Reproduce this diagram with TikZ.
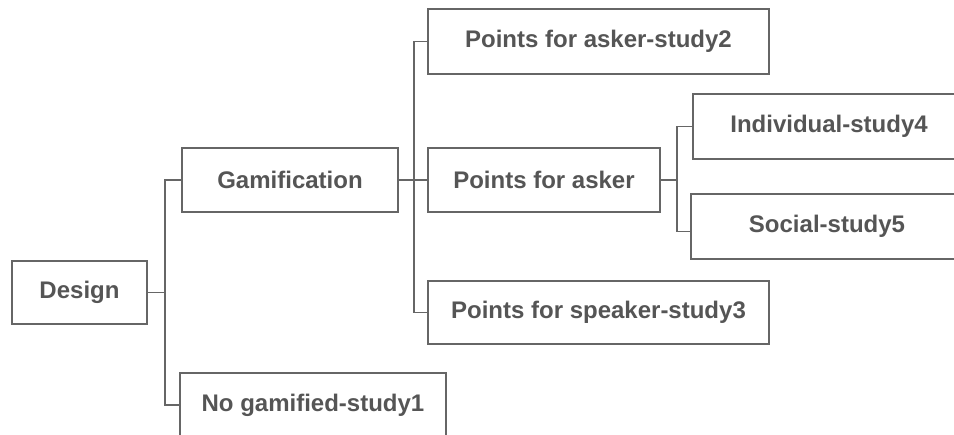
\documentclass[tikz,border=0pt]{standalone}
\usepackage{fontspec}
\setmainfont{Liberation Sans}
\definecolor{linegray}{HTML}{666666}
\definecolor{textgray}{HTML}{555555}
\begin{document}
\begin{tikzpicture}[x=1pt,y=-1pt,
  box/.style={draw=linegray, line width=1.8pt, fill=white, inner sep=0pt,
    text=textgray, font=\fontsize{24}{28}\selectfont\bfseries, anchor=center},
  conn/.style={draw=linegray, line width=1.8pt}]
\clip (0,0) rectangle (954,435);
\fill[white] (0,0) rectangle (954,435);
\node[box, minimum width=135pt, minimum height=63pt] (design) at (79.5,292.5) {Design};
\node[box, minimum width=216pt, minimum height=64pt] (gam) at (290,180) {Gamification};
\node[box, minimum width=266pt, minimum height=64pt] (nogam) at (313,405) {No gamified-study1};
\node[box, minimum width=341pt, minimum height=65pt] (pa2) at (598.5,41.5) {Points for asker-study2};
\node[box, minimum width=232pt, minimum height=64pt] (pa) at (544,180) {Points for asker};
\node[box, minimum width=341pt, minimum height=63pt] (ps3) at (598.5,312.5) {Points for speaker-study3};
\node[box, minimum width=272pt, minimum height=65pt] (ind) at (829,126.5) {Individual-study4};
\node[box, minimum width=272pt, minimum height=65pt] (soc) at (827,226.5) {Social-study5};
\coordinate (t1) at (165,292.5);
\coordinate (t2) at (414,180);
\coordinate (t3) at (677,180);
\draw[conn] (design.east) -- (t1);
\draw[conn] (t1) |- (gam.west);
\draw[conn] (t1) |- (nogam.west);
\draw[conn] (gam.east) -- (pa.west);
\draw[conn] (t2) |- (pa2.west);
\draw[conn] (t2) |- (ps3.west);
\draw[conn] (pa.east) -- (t3);
\draw[conn] (t3) |- (ind.west);
\draw[conn] (t3) |- ([yshift=-5pt]soc.west);
\end{tikzpicture}
\end{document}
